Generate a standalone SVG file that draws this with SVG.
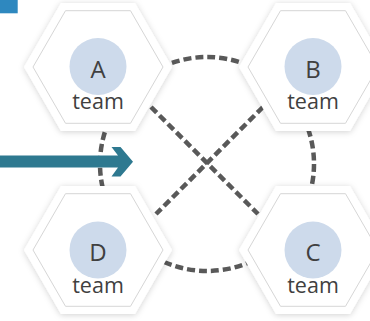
<svg xmlns="http://www.w3.org/2000/svg" width="370" height="321" viewBox="0 0 370 321">
<style>
.outer{fill:#ffffff;filter:url(#sh)}
.inner{fill:#ffffff;stroke:#d6d6d6;stroke-width:1}
.dot{fill:#cddaeb}
.lt{font-family:"Open Sans","Liberation Sans",sans-serif;font-size:24px;fill:#404040;text-anchor:middle}
.tm{font-family:"Open Sans","Liberation Sans",sans-serif;font-size:21.5px;fill:#404040;text-anchor:middle}
.dash{fill:none;stroke:#595959;stroke-width:4.5;stroke-dasharray:8 4}
</style>
<defs>
<filter id="sh" x="-20%" y="-20%" width="140%" height="140%">
<feDropShadow dx="0" dy="1" stdDeviation="3" flood-color="#000" flood-opacity="0.18"/>
</filter>
<polygon id="ho" points="74,0 37,64 -37,64 -74,0 -37,-64 37,-64"/>
<polygon id="hi" points="65,0 32.5,56.3 -32.5,56.3 -65,0 -32.5,-56.3 32.5,-56.3"/>
</defs>
<rect x="0" y="0" width="17.7" height="13.3" fill="#2e88bf"/>
<g id="connectors">
<circle class="dash" cx="207" cy="164" r="107"/>
<line class="dash" x1="151" y1="107" x2="258" y2="214"/>
<line class="dash" x1="263" y1="107" x2="156" y2="214"/>
</g>
<g id="nodeA">
<use href="#ho" x="98" y="67" class="outer"/>
<use href="#hi" x="98" y="67" class="inner"/>
<circle class="dot" cx="98" cy="66.5" r="28.5"/>
<text class="lt" x="98" y="77.5">A</text>
<text class="tm" x="98" y="109">team</text>
</g>
<g id="nodeB">
<use href="#ho" x="313" y="67" class="outer"/>
<use href="#hi" x="313" y="67" class="inner"/>
<circle class="dot" cx="313" cy="66.5" r="28.5"/>
<text class="lt" x="313" y="77.5">B</text>
<text class="tm" x="313" y="109">team</text>
</g>
<g id="nodeD">
<use href="#ho" x="98" y="250" class="outer"/>
<use href="#hi" x="98" y="250" class="inner"/>
<circle class="dot" cx="98" cy="250" r="28.5"/>
<text class="lt" x="98" y="261">D</text>
<text class="tm" x="98" y="292.5">team</text>
</g>
<g id="nodeC">
<use href="#ho" x="313" y="250" class="outer"/>
<use href="#hi" x="313" y="250" class="inner"/>
<circle class="dot" cx="313" cy="250" r="28.5"/>
<text class="lt" x="313" y="261">C</text>
<text class="tm" x="313" y="292.5">team</text>
</g>
<g id="arrow">
<path d="M0,155.5 H118 L111.5,147 H120.5 L133,161.7 L120.5,176.5 H111.5 L118,167.5 H0 Z" fill="#2e7990"/>
</g>
</svg>
